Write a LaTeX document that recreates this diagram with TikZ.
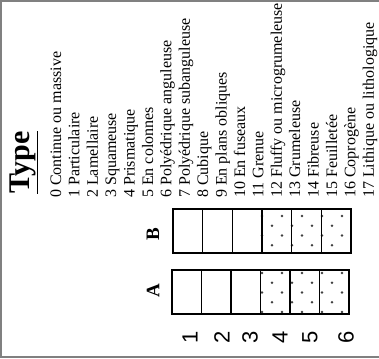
\documentclass[tikz,border=0pt]{standalone}
\usepackage{fontspec}
\setmainfont{Liberation Serif}
\newfontfamily\numfont{Liberation Sans}
\begin{document}
\begin{tikzpicture}[x=1pt,y=-1pt,
  frameline/.style={draw=black!50,line width=2pt},
  item/.style={rotate=90,anchor=base west,inner sep=0pt,font=\fontsize{16}{16}\selectfont},
  cellA/.style={draw,line width=1.2pt,minimum width=29.5pt,minimum height=44pt,inner sep=0pt},
  cellB/.style={draw,line width=1.2pt,minimum width=29.67pt,minimum height=44pt,inner sep=0pt},
  rowlabel/.style={rotate=90,inner sep=0pt,font=\bfseries\fontsize{19}{19}\selectfont},
  numlabel/.style={rotate=90,inner sep=0pt,font=\numfont\fontsize{22}{22}\selectfont},
  dot/.style={fill=black!75,draw=none}]
\useasboundingbox (0,0) rectangle (379,358);
\fill[white] (0,0) rectangle (379,358);
% frame
\draw[frameline] (0,1) -- (379,1);
\draw[frameline] (1,0) -- (1,357);
\draw[frameline] (0,356.5) -- (379,356.5);
% title
\node[rotate=90,anchor=base west,inner sep=0pt,font=\bfseries\fontsize{30}{30}\selectfont] (title) at (29,194) {\underline{Type}};
% items
\foreach \t [count=\k from 0] in {Continue ou massive,Particulaire,Lamellaire,Squameuse,Prismatique,En colonnes,Polyédrique anguleuse,Polyédrique subanguleuse,Cubique,En plans obliques,En fuseaux,Grenue,Fluffy ou microgrumeleuse,Grumeleuse,Fibreuse,Feuilletée,Coprogène,Lithique ou lithologique}
  \node[item] (it\k) at (61+18.4*\k,198) {\k\ \t};
% dots
\begin{scope}
\clip (260,209) rectangle (351,253);
\foreach \i in {0,...,4} \foreach \j in {0,...,2} {
  \fill[dot] (262+20*\i,216+19.5*\j) circle (1.4);
  \fill[dot] (272+20*\i,225.75+19.5*\j) circle (1.4);}
\end{scope}
\begin{scope}
\clip (260,270) rectangle (349,314);
\foreach \i in {0,...,4} \foreach \j in {0,...,2} {
  \fill[dot] (262+20*\i,273+19.5*\j) circle (1.4);
  \fill[dot] (272+20*\i,282.75+19.5*\j) circle (1.4);}
\end{scope}
% cells
\foreach \k in {1,...,6} {
  \node[cellB] (b\k) at (173+29.67*\k-14.83,231) {};
  \node[cellA] (a\k) at (172+29.5*\k-14.75,292) {};
}
% row labels
\node[rowlabel] (lB) at (153,234) {B};
\node[rowlabel] (lA) at (153,291) {A};
% numbers
\foreach \n/\x in {1/190,2/222,3/250,4/280,5/310,6/346}
  \node[numlabel] (n\n) at (\x,337) {\n};
\end{tikzpicture}
\end{document}
